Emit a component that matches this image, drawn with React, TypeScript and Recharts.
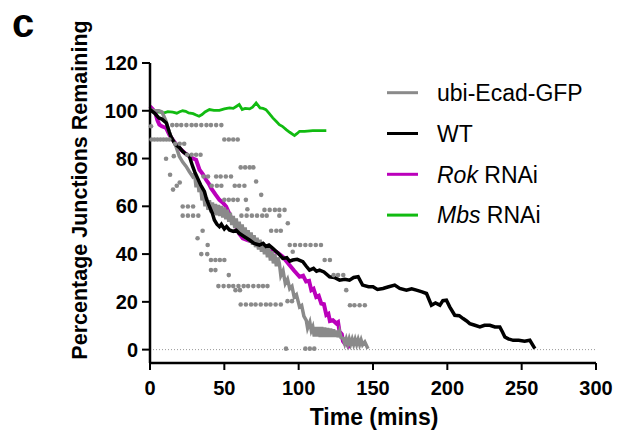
import React from 'react';
import { ComposedChart, Line, Scatter, XAxis, YAxis, ReferenceLine } from 'recharts';

// time (mins) vs percentage of junctions remaining
const WT: [number, number][] = [
  [0, 100.5], [3, 99], [6, 97], [8, 96.5], [11, 94.9], [13, 91], [14, 89.3], [16, 87], [17.5, 85.8], [20, 84.5],
  [22, 83], [24, 82], [26.5, 80.9], [28.7, 76.7], [30, 74.5], [32, 71.8], [34, 69], [36.6, 66.2], [38, 63], [40, 59.9],
  [42, 57], [43.3, 54.3], [45, 52.5], [46.7, 51.5], [48, 52.5], [50, 50.5], [51.5, 51.5], [53.4, 50.1], [56, 49.5], [58, 50], [60, 48.7], [63, 47.5], [66.9, 45.9],
  [70, 44.5], [73.6, 43.8], [76, 44.5], [78, 43.2], [80, 43.8], [82.6, 42.4], [86, 40.5], [89.3, 38.2], [92, 38.5], [94, 37], [96, 37.5], [99, 37.8], [102.8, 36.8],
  [105, 35], [107.3, 33.3], [110, 34], [112, 32.8], [114, 33.3], [117, 32.5], [120.8, 30.5], [124, 30.2], [127.5, 29.1], [131, 29.5], [134.2, 29.1],
  [137, 30.2], [140, 30.5], [143, 27], [147, 26.3], [150, 26.3], [153, 25.2], [156.7, 25.6], [160, 26.2], [164.6, 27], [168, 25.6],
  [172.5, 24.9], [176, 25.5], [179.2, 24.9], [183, 24.2], [186, 23.5], [189.3, 18.6], [192, 19.5], [195, 18.6], [197, 20.5], [199.4, 20.7],
  [201.6, 17.9], [205, 14.4], [208, 14.2], [210.6, 13], [213, 12], [215.1, 10.9], [218, 10.3], [221.9, 9.5], [225, 10.2], [228.6, 10.2],
  [232, 9.5], [235.3, 9.5], [237, 7.5], [238.7, 5.3], [241, 4.5], [244.3, 3.9], [248, 3.9], [252, 3.5], [255.5, 3.9], [258.9, 0.4],
];

const ROK: [number, number][] = [
  [0, 101.9], [2, 100.5], [3.6, 99.1], [5, 96], [6.3, 94.2], [8, 93.5], [10.8, 92.8], [13, 90], [15.3, 87.9], [17.5, 86],
  [19.7, 84.4], [23, 82.5], [26.5, 80.9], [29, 80], [31, 79.5], [33.3, 75.3], [35.5, 73.5], [37.7, 71.1], [39.5, 69.5], [41.1, 67.6],
  [44, 65], [46.7, 62.7], [49, 61.5], [51.2, 59.9], [54, 56], [57.9, 51.5], [60, 48.5], [62.4, 46.6], [66, 45.8], [69.1, 45.2],
  [72, 44.5], [75.9, 43.8], [79, 42.8], [82.6, 41.7], [86, 40.5], [89.3, 38.9], [93.8, 35.4], [97, 33], [100.6, 30.5], [103, 31],
  [105, 28.5], [107, 28.8], [108.5, 24.9], [110, 25.5], [111.8, 22], [113.5, 22.5], [115.2, 19.3], [117, 19], [118.6, 14.5], [120, 15],
  [121, 12], [123, 12.3], [125.3, 11], [126.5, 11.5], [127.5, 7.5], [129, 6.5], [129.8, 3.5], [131, 2.5], [132.5, 2.8], [134, 0.5],
];

const MBS: [number, number][] = [
  [0, 100], [1.8, 99.8], [5, 99.5], [9.6, 99.1], [12, 99.6], [15.3, 99.4], [18, 99], [20, 99.6], [22, 100], [24, 99.8],
  [26, 99.1], [29, 98.8], [31, 98.2], [33, 97.7], [35, 98.4], [37, 99.5], [40, 100.5], [43, 100.2], [46.7, 100.2], [50, 100.8],
  [53.4, 101.2], [56, 101], [58, 101.8], [60, 102.6], [62, 100.5], [64, 101], [67, 100.8], [69, 101.5], [71.4, 103.3], [74, 101.2],
  [76, 101], [78, 100.5], [80, 99], [82.6, 97], [85, 95.5], [87, 94.2], [89, 93.5], [91.6, 92.1], [94, 91], [97.2, 89.6],
  [99, 90.5], [100.6, 91.4], [104, 91.4], [109.5, 91.7], [114, 91.7], [118.6, 91.7],
];

const ECAD: [number, number][] = [
  [0, 100.5], [3, 100], [6, 100], [8, 99.5], [9.5, 97.5], [10.8, 95.6], [12.5, 92], [14, 89.3], [16, 87], [17.5, 85.1],
  [19.7, 80.9], [22, 78.5], [24.3, 76.7], [26.5, 74.5], [28.7, 72.5],
  [30, 73.5], [31, 68], [32, 71.5], [33, 66], [34, 68.5], [35, 62.5], [36, 65.5], [37, 60], [38, 63.7], [39, 58.5],
  [40, 62.5], [41, 57.5], [42, 61.6], [43, 56.8], [44, 61], [45, 56.3], [46, 60.6], [47, 55.9], [48, 60.1], [49, 55.3],
  [50, 59.5], [51, 54.6], [52, 58.6], [53, 53.5], [54, 57.3], [55, 52.2], [56, 56], [57, 50.9], [58, 54.9], [59, 49.8],
  [60, 53.6], [61, 48.5], [62, 52.4], [63, 47.3], [64, 51.1], [65, 46], [66, 50], [67, 45], [68, 49], [69, 43.9],
  [70, 47.9], [71, 42.9], [72, 46.9], [73, 41.9], [74, 46], [75, 41], [76, 45], [77, 39.9], [78, 43.8], [79, 38.7],
  [80, 42.5], [81, 37.3], [82, 41.2], [83, 36.1], [84, 40], [85, 34.9], [86, 38.6], [87, 36.1],
  [88, 31], [89.5, 33], [91, 27.7], [92.5, 29.5], [94, 25.5], [95.5, 26.5], [97, 22], [98.5, 23], [100.6, 17.9], [102, 18.5],
  [103.5, 14], [105.1, 12.3], [106, 9], [107.5, 11.5], [108.5, 8], [109.5, 9.5], [110.5, 5.5], [111.5, 9.5], [112.5, 5.5], [113.5, 9.5],
  [114.5, 5.3], [115.5, 9.5], [116.5, 5.3], [117.5, 9.2], [118.5, 5.3], [119.5, 9], [120.5, 5.3], [121.5, 8.8], [122.5, 5.3], [123.5, 8.5],
  [124.5, 5.3], [125.5, 8], [126.5, 5.2], [127.5, 7.5], [128.5, 5], [130, 4.7], [131, 2.5], [132, 4.5], [133, 2.3], [134, 4.5],
  [135, 2.3], [136, 4.3], [137, 2.2], [138, 4.3], [139, 2.2], [140, 4.2], [141, 2.1], [142, 4], [143, 2], [144.5, 3.2], [146.6, 0.4],
];

// individual ubi-Ecad-GFP replicates shown as grey dots
const ECAD_DOTS: [number, number][] = [
  [0.7, 93.5], [15, 94], [18, 94], [21, 94], [24.5, 94], [28, 94], [31, 94], [34.5, 94], [38, 94], [41, 94], [44.5, 94], [48, 94],
  [1, 88], [3, 88], [5, 88], [7, 88], [9, 88], [11, 88], [13, 88], [50, 88], [53, 88], [56, 88], [59, 88],
  [17, 86.2], [20, 86.2], [23, 86.2], [10.8, 79.9], [16, 81], [25, 81.6], [28, 81.6], [31, 81.6], [34, 81.6],
  [61, 76.3], [64, 76.3], [67, 76.3], [69.5, 76.3], [13.5, 73.2],
  [36, 72.5], [39, 72.5], [44.5, 72.5], [47.5, 72.5], [51, 72.5], [54.5, 72.5], [71.4, 70.4],
  [15.5, 67], [18, 68.6], [20, 70], [41.5, 68.6], [45, 68.6], [48, 68.6], [57, 68.6], [60, 68.6], [63.5, 68.6],
  [74.8, 64.8], [50, 62.7], [53, 62.7], [56, 62.7], [59, 62.7], [64.5, 62.7],
  [22, 59.9], [25.5, 59.9], [29, 59.9], [65.5, 58.8], [77, 58.5], [80.5, 58.5], [84, 58.5], [87, 58.5], [90.5, 58.5],
  [22, 56.1], [25.5, 56.1], [29, 56.1], [32.5, 56.1], [61.5, 56.1], [65, 56.1], [68.5, 56.1], [72, 56.1], [75.5, 56.1], [78.5, 56.1], [87, 56.1],
  [92.7, 52.9], [35.4, 49.8], [81.5, 49.8], [85, 49.8], [88, 49.8], [32, 46.6],
  [94, 43.8], [97.5, 43.8], [101, 43.8], [104.5, 43.8], [108, 43.8], [111.5, 43.8], [115, 43.8], [38.8, 43.8],
  [34.5, 40], [38.5, 40], [96, 41], [41, 37.5], [44, 37.5], [47, 37.5], [50, 37.5], [117.5, 37.5], [121, 37.5],
  [41, 33.3], [44, 33.3], [53, 31.2], [123.5, 31.2], [126.5, 31.2], [130, 31.2],
  [46, 26.6], [49.5, 26.6], [53, 26.6], [56, 26.6], [59.5, 26.6], [63, 26.6], [66, 26.6], [69.5, 26.6], [73, 26.6], [76, 26.6], [79, 26.6],
  [57.5, 24.9], [60.5, 24.9], [132, 24.9],
  [61, 18.9], [64.5, 18.9], [68, 18.9], [71, 18.9], [74.5, 18.9], [78, 18.9], [81, 18.9], [84.5, 18.9], [88, 18.9], [92.5, 20.3], [95.5, 20.3],
  [134.5, 18.6], [137.5, 18.6], [141, 18.6], [144.5, 18.6],
  [91.5, 0.4], [104.5, 0.4], [107.5, 0.4], [110.5, 0.4],
];

const X_TICKS = [0, 50, 100, 150, 200, 250, 300];
const Y_TICKS = [0, 20, 40, 60, 80, 100, 120];

const toPts = (rows: [number, number][]) => rows.map(([t, y]) => ({ t, y }));

const FONT = '"Liberation Sans", Arial, sans-serif';
const C_ECAD = '#8a8a8a';
const C_WT = '#000000';
const C_ROK = '#bb00bb';
const C_MBS = '#11bb11';

const legendItems = [
  { color: C_ECAD, italic: '', rest: 'ubi-Ecad-GFP' },
  { color: C_WT, italic: '', rest: 'WT' },
  { color: C_ROK, italic: 'Rok', rest: ' RNAi' },
  { color: C_MBS, italic: 'Mbs', rest: ' RNAi' },
];

const Dot = (props: any) => <circle cx={props.cx} cy={props.cy} r={2.3} fill={C_ECAD} />;

export default function App() {
  const tickStyle = { fill: '#000', fontSize: 20, fontWeight: 'bold', fontFamily: FONT };
  return (
    <div style={{ position: 'absolute', left: 0, top: 0, width: 617, height: 437, background: '#fff' }}>
      <ComposedChart width={617} height={437} margin={{ top: 63, right: 21, bottom: 0, left: 0 }}>
        <XAxis
          type="number"
          dataKey="t"
          domain={[0, 300]}
          ticks={X_TICKS}
          height={74}
          axisLine={{ stroke: '#000', strokeWidth: 2.5 }}
          tickLine={{ stroke: '#000', strokeWidth: 2 }}
          tickSize={7}
          tickMargin={11}
          tick={tickStyle}
        />
        <YAxis
          type="number"
          dataKey="y"
          domain={[-5.6, 120]}
          ticks={Y_TICKS}
          width={150}
          axisLine={{ stroke: '#000', strokeWidth: 2.5 }}
          tickLine={{ stroke: '#000', strokeWidth: 2 }}
          tickSize={8}
          tickMargin={4}
          tick={tickStyle}
        />
        <ReferenceLine y={0} stroke="#999" strokeWidth={1} strokeDasharray="1 2" />
        <Scatter data={toPts(ECAD_DOTS)} shape={Dot} isAnimationActive={false} />
        <Line data={toPts(MBS)} dataKey="y" type="linear" stroke={C_MBS} strokeWidth={2.8} dot={false} isAnimationActive={false} />
        <Line data={toPts(ROK)} dataKey="y" type="linear" stroke={C_ROK} strokeWidth={4} dot={false} isAnimationActive={false} />
        <Line data={toPts(ECAD)} dataKey="y" type="linear" stroke={C_ECAD} strokeWidth={3.5} dot={false} isAnimationActive={false} />
        <Line data={toPts(WT)} dataKey="y" type="linear" stroke={C_WT} strokeWidth={3.5} dot={false} isAnimationActive={false} />
      </ComposedChart>
      <svg width={617} height={437} style={{ position: 'absolute', left: 0, top: 0, pointerEvents: 'none' }}>
        <text x={12} y={37} fontFamily={FONT} fontWeight="bold" fontSize={40}>c</text>
        <text
          x={87}
          y={190}
          transform="rotate(-90, 87, 190)"
          textAnchor="middle"
          fontFamily={FONT}
          fontWeight="bold"
          fontSize={21.5}
        >
          Percentage Junctions Remaining
        </text>
        <text x={374} y={425} textAnchor="middle" fontFamily={FONT} fontWeight="bold" fontSize={23}>
          Time (mins)
        </text>
        {legendItems.map((item, i) => {
          const cy = 92.7 + i * 40.8;
          return (
            <g key={i}>
              <line x1={387} x2={418} y1={cy} y2={cy} stroke={item.color} strokeWidth={3} />
              <text x={437} y={cy + 8.3} fontFamily={FONT} fontSize={23}>
                {item.italic ? <tspan fontStyle="italic">{item.italic}</tspan> : null}
                {item.rest}
              </text>
            </g>
          );
        })}
      </svg>
    </div>
  );
}
